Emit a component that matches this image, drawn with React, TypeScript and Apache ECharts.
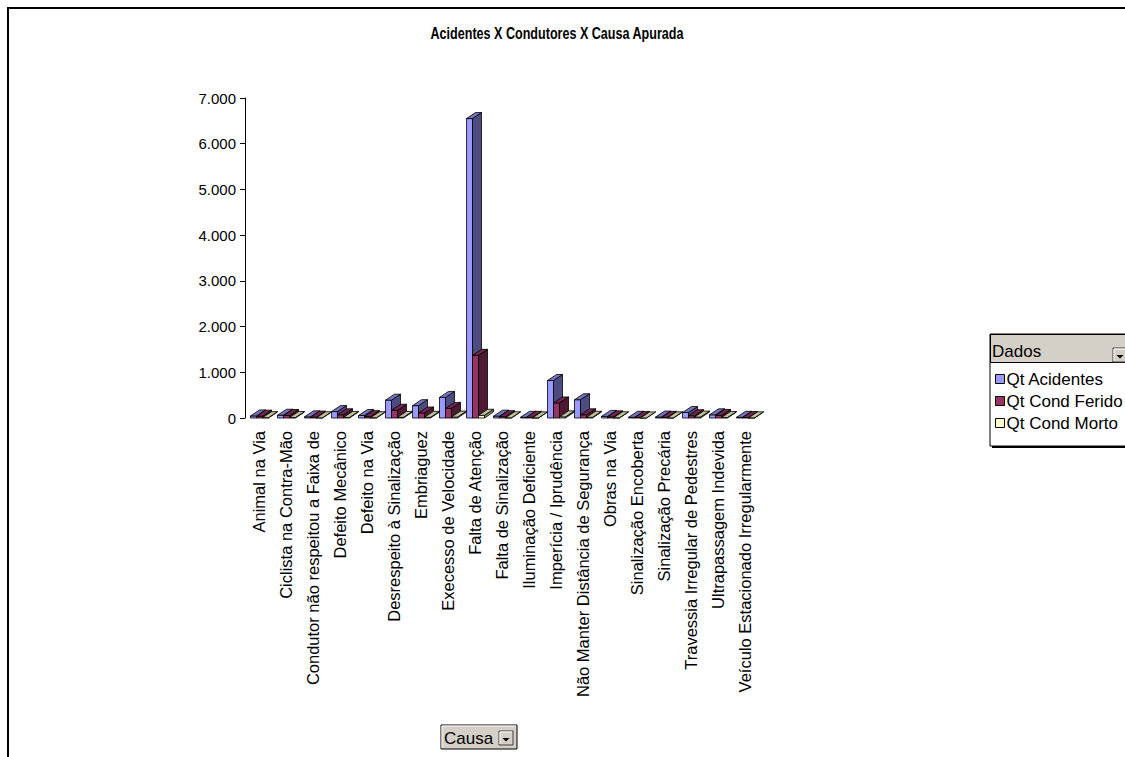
import React, { useEffect, useRef } from "react";
import * as echarts from "echarts";

const chartTitle = "Acidentes X Condutores X Causa Apurada";

const categories = [
  "Animal na Via",
  "Ciclista na Contra-Mão",
  "Condutor não respeitou a Faixa de",
  "Defeito Mecânico",
  "Defeito na Via",
  "Desrespeito à Sinalização",
  "Embriaguez",
  "Execesso de Velocidade",
  "Falta de Atenção",
  "Falta de Sinalização",
  "Iluminação Deficiente",
  "Imperícia / Iprudência",
  "Não Manter Distância de Segurança",
  "Obras na Via",
  "Sinalização Encoberta",
  "Sinalização Precária",
  "Travessia Irregular de Pedestres",
  "Ultrapassagem Indevida",
  "Veículo Estacionado Irregularmente",
];

const qtAcidentes = [45, 60, 25, 140, 55, 390, 270, 450, 6550, 40, 15, 820, 400, 35, 15, 20, 120, 70, 15];
const qtCondFerido = [40, 55, 20, 70, 30, 170, 110, 210, 1370, 30, 15, 330, 70, 25, 10, 15, 50, 55, 10];
const qtCondMorto = [8, 10, 5, 12, 6, 15, 15, 20, 60, 5, 3, 25, 15, 5, 2, 3, 20, 10, 3];

const seriesNames = ["Qt Acidentes", "Qt Cond Ferido", "Qt Cond Morto"];
const seriesValues = [qtAcidentes, qtCondFerido, qtCondMorto];

const frontColors = ["#9999FF", "#993366", "#FFFFCC"];
const sideColors = ["#4C4C80", "#4D1933", "#808066"];
const topColors = ["#7373BF", "#73264D", "#BFBF99"];

const FONT = "'Liberation Sans', Arial, sans-serif";

const fmt = (v: number) => String(v).replace(/\B(?=(\d{3})+(?!\d))/g, ".");

function makeRender(si: number) {
  return (params: any, api: any) => {
    const i = api.value(0);
    const v = api.value(1);
    const b = api.coord([i, 0]);
    const t = api.coord([i, v]);
    const w = 6;
    const dx = 9;
    const dy = -6;
    const x0 = b[0] - 8 + si * 6;
    const yb = b[1];
    const yt = t[1];
    const st = { stroke: "#000", lineWidth: 0.8 };
    return {
      type: "group",
      children: [
        {
          type: "polygon",
          shape: { points: [[x0, yt], [x0 + w, yt], [x0 + w, yb], [x0, yb]] },
          style: { fill: frontColors[si], ...st },
        },
        {
          type: "polygon",
          shape: { points: [[x0 + w, yt], [x0 + w + dx, yt + dy], [x0 + w + dx, yb + dy], [x0 + w, yb]] },
          style: { fill: sideColors[si], ...st },
        },
        {
          type: "polygon",
          shape: { points: [[x0, yt], [x0 + dx, yt + dy], [x0 + w + dx, yt + dy], [x0 + w, yt]] },
          style: { fill: topColors[si], ...st },
        },
      ],
    };
  };
}

function dropButton(x: number, y: number) {
  return [
    { type: "rect", z: 5, shape: { x, y, width: 14, height: 14 }, style: { fill: "#D4D0C8", stroke: "#404040", lineWidth: 1 } },
    { type: "polyline", z: 6, shape: { points: [[x + 1, y + 13], [x + 1, y + 1], [x + 13, y + 1]] }, style: { stroke: "#fff", lineWidth: 1, fill: "none" } },
    { type: "polygon", z: 6, shape: { points: [[x + 3.5, y + 7], [x + 10.5, y + 7], [x + 7, y + 10.5]] }, style: { fill: "#000" } },
  ];
}

export default function App() {
  const ref = useRef<HTMLDivElement>(null);
  useEffect(() => {
    document.body.style.margin = "0";
    const chart = echarts.init(ref.current as HTMLDivElement, undefined, { renderer: "svg" });
    chart.setOption({
      animation: false,
      backgroundColor: "#fff",
      grid: { left: 245, top: 98, width: 513, height: 320, containLabel: false },
      xAxis: {
        type: "category",
        data: categories,
        axisLine: { show: false },
        axisTick: { show: false },
        axisLabel: { rotate: 90, interval: 0, fontSize: 16.5, margin: 13, color: "#000", fontFamily: FONT },
      },
      yAxis: {
        type: "value",
        min: 0,
        max: 7000,
        interval: 1000,
        splitLine: { show: false },
        axisLine: { show: true, lineStyle: { color: "#000", width: 1 } },
        axisTick: { show: true, length: 5, lineStyle: { color: "#000" } },
        axisLabel: { formatter: fmt, fontSize: 15, margin: 9, color: "#000", fontFamily: FONT },
      },
      legend: {
        orient: "vertical",
        left: 990,
        top: 363,
        itemWidth: 9,
        itemHeight: 9,
        itemGap: 0,
        icon: "rect",
        selectedMode: false,
        data: seriesNames,
        itemStyle: { borderColor: "#000", borderWidth: 1 },
        textStyle: { fontSize: 17, lineHeight: 22, color: "#000", fontFamily: FONT, padding: [0, 0, 0, -3] },
      },
      graphic: [
        {
          type: "text",
          z: 4,
          x: 557,
          y: 33,
          scaleX: 0.74,
          style: { text: chartTitle, fontSize: 17, fontWeight: "bold", fill: "#000", fontFamily: FONT, textAlign: "center", verticalAlign: "middle" },
        },
        { type: "rect", z: 1, shape: { x: 8, y: 8, width: 1400, height: 1000 }, style: { fill: "none", stroke: "#000", lineWidth: 2 } },
        { type: "rect", z: 1, shape: { x: 992, y: 336, width: 200, height: 112 }, style: { fill: "#000" } },
        { type: "rect", z: 2, shape: { x: 990, y: 334, width: 200, height: 112 }, style: { fill: "#fff", stroke: "#000", lineWidth: 1 } },
        { type: "rect", z: 3, shape: { x: 990.5, y: 334.5, width: 200, height: 28 }, style: { fill: "#D4D0C8", stroke: "#000", lineWidth: 1 } },
        { type: "text", z: 4, x: 992, y: 351, style: { text: "Dados", fontSize: 17, fill: "#000", fontFamily: FONT, verticalAlign: "middle" } },
        ...dropButton(1113, 348),
        { type: "rect", z: 3, shape: { x: 441, y: 725, width: 76, height: 24 }, style: { fill: "#D4D0C8", stroke: "#000", lineWidth: 1 } },
        { type: "polyline", z: 4, shape: { points: [[442, 748], [442, 726], [516, 726]] }, style: { stroke: "#fff", fill: "none", lineWidth: 1 } },
        { type: "text", z: 4, x: 444, y: 738, style: { text: "Causa", fontSize: 17, fill: "#000", fontFamily: FONT, verticalAlign: "middle" } },
        ...dropButton(499, 731),
      ],
      series: seriesNames.map((name, si) => ({
        type: "custom",
        name,
        renderItem: makeRender(si),
        itemStyle: { color: frontColors[si], borderColor: "#000", borderWidth: 1 },
        encode: { x: 0, y: 1 },
        data: seriesValues[si].map((v, i) => [i, v]),
        z: 2 + si,
      })),
    });
    return () => chart.dispose();
  }, []);
  return <div ref={ref} style={{ width: 1125, height: 757 }} />;
}
